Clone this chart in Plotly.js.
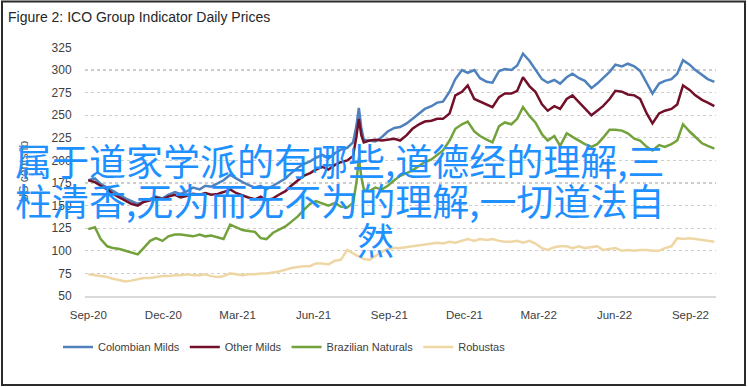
<!DOCTYPE html>
<html>
<head>
<meta charset="utf-8">
<script src="https://cdn.plot.ly/plotly-3.0.1.min.js"></script>
<style>
  html, body { margin: 0; padding: 0; background: #ffffff; }
  #chart { width: 748px; height: 387px; }
</style>
</head>
<body>
<div id="chart"></div>
<script>
// ---------- DATA ----------
const dates = [
  "2020-09-01","2020-09-09","2020-09-16","2020-09-24","2020-10-01","2020-10-09","2020-10-16","2020-10-23","2020-10-31","2020-11-07",
  "2020-11-15","2020-11-22","2020-11-30","2020-12-07","2020-12-15","2020-12-22","2020-12-30","2021-01-06","2021-01-14","2021-01-21",
  "2021-01-28","2021-02-05","2021-02-12","2021-02-20","2021-02-27","2021-03-07","2021-03-14","2021-03-22","2021-03-29","2021-04-05",
  "2021-04-13","2021-04-20","2021-04-28","2021-05-05","2021-05-13","2021-05-20","2021-05-28","2021-06-04","2021-06-12","2021-06-19",
  "2021-06-27","2021-07-04","2021-07-12","2021-07-19","2021-07-23","2021-07-26","2021-07-29",
  "2021-08-01","2021-08-08","2021-08-15","2021-08-23","2021-08-30","2021-09-07","2021-09-14","2021-09-22","2021-09-29","2021-10-07",
  "2021-10-14","2021-10-22","2021-10-29","2021-11-05","2021-11-13","2021-11-20","2021-11-28","2021-12-05","2021-12-13","2021-12-20",
  "2021-12-28","2022-01-04","2022-01-12","2022-01-19","2022-01-27","2022-02-03","2022-02-10","2022-02-18","2022-02-25","2022-03-05",
  "2022-03-12","2022-03-20","2022-03-27","2022-04-04","2022-04-11","2022-04-19","2022-04-26","2022-05-04","2022-05-11","2022-05-18",
  "2022-05-26","2022-06-02","2022-06-10","2022-06-17","2022-06-25","2022-07-02","2022-07-10","2022-07-17","2022-07-25","2022-08-01",
  "2022-08-09","2022-08-16","2022-08-23","2022-08-31","2022-09-07","2022-09-15","2022-09-22","2022-09-30"
];

const colombianMilds = [
  178,180,174,170,166,162,158,155,152,154,157,160,158,162,165,163,166,170,168,172,171,175,178,184,180,176,173,170,172,168,
  172,176,180,186,192,196,199,203,206,202,208,212,214,220,
  238,258,236,
  223,222,221,226,232,236,237,241,246,252,257,260,264,265,276,290,300,297,300,291,287,286,299,301,300,305,318,310,301,290,286,289,
  285,292,296,291,288,280,285,291,298,306,304,307,304,299,285,274,285,288,290,296,311,306,300,295,290,287
];

const otherMilds = [
  178,176,172,168,163,159,155,152,150,154,156,159,157,160,162,159,161,163,162,164,162,163,165,168,164,161,159,157,160,156,
  158,162,166,172,178,183,186,190,193,190,195,198,200,205,
  226,246,228,
  220,222,223,222,223,224,222,228,235,240,243,244,246,246,252,272,276,283,268,265,262,259,270,274,274,277,292,282,276,262,255,260,
  257,268,272,264,258,250,255,260,268,277,276,273,272,268,252,241,252,255,257,262,283,278,272,267,264,260
];

const brazilianNaturals = [
  124,126,113,105,103,102,100,98,96,103,111,114,111,116,118,118,117,116,118,116,117,115,113,129,126,123,122,121,114,113,
  120,123,127,132,138,145,152,155,152,150,153,149,148,153,
  175,203,182,
  168,166,170,168,172,178,183,186,189,194,198,201,206,211,222,235,240,243,232,227,223,220,238,242,240,246,259,249,242,229,222,227,
  216,230,226,222,218,215,218,225,234,234,233,230,224,222,215,211,217,215,218,222,240,232,226,219,216,213
];

const robustas = [
  74,73,72,71,69,67,66,67,69,70,70,71,72,72,73,73,74,73,73,74,72,71,72,75,74,73,74,74,75,75,
  76,77,79,81,82,83,83,86,86,85,89,90,101,97,
  95,94,92,
  91,90,94,99,102,103,103,104,105,106,107,108,109,108,110,109,111,113,111,113,112,113,111,110,110,111,109,111,108,103,101,104,
  105,105,103,105,103,104,105,101,102,103,100,101,100,101,101,100,100,103,105,114,113,114,113,112,111,110
];

const seriesNames = ["Colombian Milds", "Other Milds", "Brazilian Naturals", "Robustas"];
const tickDates = ["2020-09-01","2020-12-01","2021-03-01","2021-06-01","2021-09-01","2021-12-01","2022-03-01","2022-06-01","2022-09-01"];
const tickLabels = ["Sep-20","Dec-20","Mar-21","Jun-21","Sep-21","Dec-21","Mar-22","Jun-22","Sep-22"];
const yTicks = [50,75,100,125,150,175,200,225,250,275,300,325];

const chartTitle = "Figure 2: ICO Group Indicator Daily Prices";
const yTitle = "US cents/lb";
const overlayLines = ["属于道家学派的有哪些,道德经的理解,三", "柱清香,无为而无不为的理解,一切道法自", "然"];

// ---------- LAYOUT / STYLE ----------
const W = 748, H = 387;
const M = {l: 85, r: 32, t: 47, b: 91};
const PW = W - M.l - M.r, PH = H - M.t - M.b;
const px = x => (x - M.l) / PW;
const py = y => (H - M.b - y) / PH;

const FONT = '"Liberation Sans", Arial, sans-serif';
const colors = ["#4F81BD", "#731029", "#73A23C", "#EED7A4"];
const seriesData = [colombianMilds, otherMilds, brazilianNaturals, robustas];

const traces = seriesData.map((vals, i) => ({
  type: "scatter",
  mode: "lines",
  name: seriesNames[i],
  x: dates,
  y: vals,
  line: {color: colors[i], width: 2.5},
  hoverinfo: "skip"
}));

const layout = {
  width: W, height: H,
  margin: M,
  paper_bgcolor: "#ffffff",
  plot_bgcolor: "#ffffff",
  font: {family: FONT, color: "#404040", size: 12},
  title: {
    text: chartTitle,
    font: {family: FONT, size: 14, color: "#262626"},
    xref: "container", yref: "container",
    x: 8 / W, xanchor: "left",
    y: 1 - 17 / H, yanchor: "middle"
  },
  showlegend: true,
  legend: {
    orientation: "h",
    xref: "container", yref: "container",
    x: 58 / W, xanchor: "left",
    y: 1 - 347 / H, yanchor: "middle",
    font: {family: FONT, size: 11, color: "#404040"},
    bgcolor: "rgba(0,0,0,0)"
  },
  xaxis: {
    type: "date",
    range: ["2020-08-28", "2022-10-02"],
    tickmode: "array",
    tickvals: tickDates,
    ticktext: tickLabels,
    showgrid: false,
    zeroline: false,
    showline: true,
    linecolor: "#d9d9d9",
    linewidth: 1.5,
    ticks: "outside",
    ticklen: 8,
    tickcolor: "rgba(0,0,0,0)",
    tickfont: {family: FONT, size: 11.5, color: "#404040"},
    fixedrange: true
  },
  yaxis: {
    range: [50, 325.5],
    tickmode: "array",
    tickvals: yTicks,
    showgrid: true,
    gridcolor: "#cdcdcd",
    griddash: "dot",
    gridwidth: 1.2,
    zeroline: false,
    showline: false,
    ticks: "outside",
    ticklen: 10,
    tickcolor: "rgba(0,0,0,0)",
    tickfont: {family: FONT, size: 12, color: "#404040"},
    title: {text: yTitle, font: {family: FONT, size: 12, color: "#595959"}, standoff: 20},
    fixedrange: true
  },
  shapes: [{
    type: "rect", xref: "paper", yref: "paper",
    x0: px(2), x1: px(745), y0: py(385), y1: py(1.5),
    line: {color: "#2b2b2b", width: 2},
    fillcolor: "rgba(0,0,0,0)",
    layer: "above"
  }],
  annotations: [
    {text: overlayLines[0], xref: "paper", yref: "paper", x: px(13), xanchor: "left", y: py(160), yanchor: "middle",
     showarrow: false, font: {family: '"Noto Sans CJK SC", sans-serif', size: 37, color: "#1E90FF"}},
    {text: overlayLines[1], xref: "paper", yref: "paper", x: px(13), xanchor: "left", y: py(200), yanchor: "middle",
     showarrow: false, font: {family: '"Noto Sans CJK SC", sans-serif', size: 37, color: "#1E90FF"}},
    {text: overlayLines[2], xref: "paper", yref: "paper", x: px(375), xanchor: "center", y: py(239), yanchor: "middle",
     showarrow: false, font: {family: '"Noto Sans CJK SC", sans-serif', size: 37, color: "#1E90FF"}}
  ]
};

Plotly.newPlot("chart", traces, layout, {displayModeBar: false, staticPlot: true});
</script>
</body>
</html>
